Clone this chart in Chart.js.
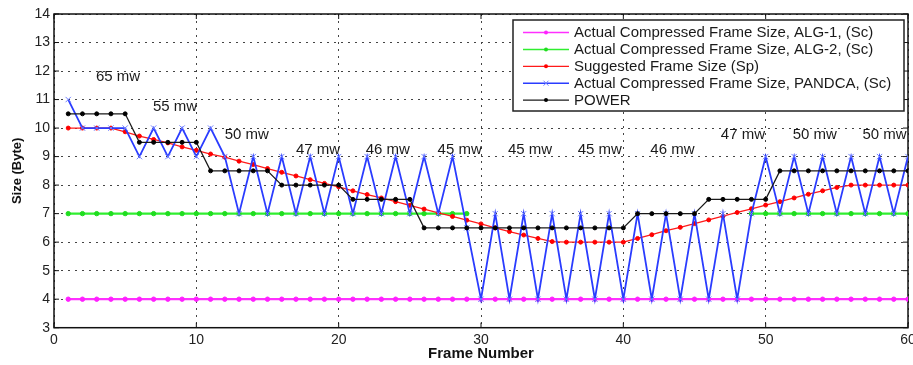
<!DOCTYPE html>
<html>
<head>
<meta charset="utf-8">
<script src="https://cdn.jsdelivr.net/npm/chart.js@4.4.0/dist/chart.umd.min.js"></script>
<style>
  html, body { margin: 0; padding: 0; background: #fff; overflow: hidden; }
  #wrap { width: 913px; height: 365px; }
</style>
</head>
<body>
<div id="wrap"><canvas id="frameChart" width="913" height="365"></canvas></div>
<script>
// Frame numbers on the x axis
const frames = [1, 2, 3, 4, 5, 6, 7, 8, 9, 10, 11, 12, 13, 14, 15, 16, 17, 18, 19, 20,
  21, 22, 23, 24, 25, 26, 27, 28, 29, 30, 31, 32, 33, 34, 35, 36, 37, 38, 39, 40,
  41, 42, 43, 44, 45, 46, 47, 48, 49, 50, 51, 52, 53, 54, 55, 56, 57, 58, 59, 60];

// Series values (Byte)
const alg1Sizes = [4, 4, 4, 4, 4, 4, 4, 4, 4, 4, 4, 4, 4, 4, 4, 4, 4, 4, 4, 4,
  4, 4, 4, 4, 4, 4, 4, 4, 4, 4, 4, 4, 4, 4, 4, 4, 4, 4, 4, 4,
  4, 4, 4, 4, 4, 4, 4, 4, 4, 4, 4, 4, 4, 4, 4, 4, 4, 4, 4, 4];

const alg2Sizes = [7, 7, 7, 7, 7, 7, 7, 7, 7, 7, 7, 7, 7, 7, 7, 7, 7, 7, 7, 7,
  7, 7, 7, 7, 7, 7, 7, 7, 7, null, null, null, null, null, null, null, null, null, null, null,
  null, null, null, null, null, null, null, null, 7, 7, 7, 7, 7, 7, 7, 7, 7, 7, 7, 7];

const suggestedSizes = [10, 10, 10, 10, 9.87, 9.72, 9.6, 9.48, 9.34, 9.22,
  9.09, 8.98, 8.84, 8.72, 8.58, 8.45, 8.32, 8.19, 8.06, 7.94,
  7.8, 7.67, 7.55, 7.42, 7.29, 7.16, 7.03, 6.9, 6.77, 6.64,
  6.5, 6.37, 6.25, 6.13, 6.02, 6, 6, 6, 6, 6,
  6.13, 6.26, 6.4, 6.52, 6.65, 6.78, 6.91, 7.04, 7.17, 7.3,
  7.42, 7.55, 7.68, 7.8, 7.92, 8, 8, 8, 8, 8];

const pandcaSizes = [11, 10, 10, 10, 10, 9, 10, 9, 10, 9,
  10, 9, 7, 9, 7, 9, 7, 9, 7, 9,
  7, 9, 7, 9, 7, 9, 7, 9, 6.5, 4,
  7, 4, 7, 4, 7, 4, 7, 4, 7, 4,
  7, 4, 7, 4, 7, 4, 7, 4, 7, 9,
  7, 9, 7, 9, 7, 9, 7, 9, 7, 9];

const powerLevels = [10.5, 10.5, 10.5, 10.5, 10.5, 9.5, 9.5, 9.5, 9.5, 9.5,
  8.5, 8.5, 8.5, 8.5, 8.5, 8, 8, 8, 8, 8,
  7.5, 7.5, 7.5, 7.5, 7.5, 6.5, 6.5, 6.5, 6.5, 6.5,
  6.5, 6.5, 6.5, 6.5, 6.5, 6.5, 6.5, 6.5, 6.5, 6.5,
  7, 7, 7, 7, 7, 7.5, 7.5, 7.5, 7.5, 7.5,
  8.5, 8.5, 8.5, 8.5, 8.5, 8.5, 8.5, 8.5, 8.5, 8.5];

// Power annotations, placed in data coordinates
const powerLabels = ["65 mw", "55 mw", "50 mw", "47 mw", "46 mw", "45 mw", "45 mw", "45 mw", "46 mw", "47 mw", "50 mw", "50 mw"];
const powerLabelX = [4.5, 8.5, 13.55, 18.55, 23.45, 28.5, 33.45, 38.35, 43.45, 48.4, 53.45, 58.35];
const powerLabelY = [11.78, 10.74, 9.75, 9.24, 9.24, 9.24, 9.24, 9.24, 9.24, 9.75, 9.75, 9.75];

// Axis ticks
const xTicks = [0, 10, 20, 30, 40, 50, 60];
const yTicks = [3, 4, 5, 6, 7, 8, 9, 10, 11, 12, 13, 14];

const FONT = "'Liberation Sans', Arial, sans-serif";
Chart.defaults.font.family = FONT;
Chart.defaults.color = "#222";

function toPoints(values) {
  return frames.map((f, i) => ({ x: f, y: values[i] }));
}

function lineSet(label, values, color, width, style, radius, markColor, order) {
  return {
    label,
    data: toPoints(values),
    borderColor: color,
    borderWidth: width,
    backgroundColor: markColor,
    pointStyle: style,
    pointRadius: radius,
    pointBackgroundColor: markColor,
    pointBorderColor: markColor,
    pointBorderWidth: 1,
    spanGaps: false,
    tension: 0,
    order,
  };
}

// Box around the plot plus inward MATLAB-style ticks
const frameBox = {
  id: "frameBox",
  beforeDatasetsDraw(chart) {
    const { ctx, chartArea: a, scales } = chart;
    ctx.save();
    ctx.strokeStyle = "#111";
    ctx.lineWidth = 1;
    xTicks.forEach((v) => {
      const px = scales.x.getPixelForValue(v);
      ctx.beginPath();
      ctx.moveTo(px, a.bottom); ctx.lineTo(px, a.bottom - 5);
      ctx.moveTo(px, a.top); ctx.lineTo(px, a.top + 5);
      ctx.stroke();
    });
    yTicks.forEach((v) => {
      const py = scales.y.getPixelForValue(v);
      ctx.beginPath();
      ctx.moveTo(a.left, py); ctx.lineTo(a.left + 5, py);
      ctx.moveTo(a.right, py); ctx.lineTo(a.right - 5, py);
      ctx.stroke();
    });
    ctx.lineWidth = 1.5;
    ctx.strokeRect(a.left, a.top, a.right - a.left, a.bottom - a.top);
    ctx.restore();
  },
};

// "xx mw" texts over the lines
const powerNotes = {
  id: "powerNotes",
  afterDatasetsDraw(chart) {
    const { ctx, scales } = chart;
    ctx.save();
    ctx.font = "15px " + FONT;
    ctx.fillStyle = "#1a1a1a";
    ctx.textAlign = "center";
    ctx.textBaseline = "middle";
    powerLabels.forEach((t, i) => {
      ctx.fillText(t, scales.x.getPixelForValue(powerLabelX[i]), scales.y.getPixelForValue(powerLabelY[i]));
    });
    ctx.restore();
  },
};

// Boxed legend in the top right corner
const boxLegend = {
  id: "boxLegend",
  afterDraw(chart) {
    const { ctx } = chart;
    const left = 513, top = 20, w = 391, h = 91;
    ctx.save();
    ctx.fillStyle = "#fff";
    ctx.fillRect(left, top, w, h);
    ctx.strokeStyle = "#222";
    ctx.lineWidth = 1.5;
    ctx.strokeRect(left, top, w, h);
    ctx.font = "15px " + FONT;
    ctx.textBaseline = "middle";
    chart.data.datasets.forEach((ds, i) => {
      const y = top + 12.5 + i * 16.9;
      ctx.strokeStyle = ds.borderColor;
      ctx.lineWidth = Math.min(ds.borderWidth, 1.5);
      ctx.beginPath();
      ctx.moveTo(523, y); ctx.lineTo(569, y);
      ctx.stroke();
      const mx = 546;
      if (ds.pointStyle === "crossRot") {
        ctx.strokeStyle = ds.pointBorderColor;
        ctx.lineWidth = 1;
        ctx.beginPath();
        ctx.moveTo(mx - 2.5, y - 2.5); ctx.lineTo(mx + 2.5, y + 2.5);
        ctx.moveTo(mx - 2.5, y + 2.5); ctx.lineTo(mx + 2.5, y - 2.5);
        ctx.stroke();
      } else {
        ctx.fillStyle = ds.pointBackgroundColor;
        ctx.beginPath();
        ctx.arc(mx, y, 2, 0, Math.PI * 2);
        ctx.fill();
      }
      ctx.fillStyle = "#1a1a1a";
      ctx.fillText(ds.label, 574, y + 0.5);
    });
    ctx.restore();
  },
};

new Chart(document.getElementById("frameChart"), {
  type: "line",
  data: {
    datasets: [
      lineSet("Actual Compressed Frame Size, ALG-1, (Sc)", alg1Sizes, "#ff30ff", 2.2, "circle", 2.2, "#ff20ff", 5),
      lineSet("Actual Compressed Frame Size, ALG-2, (Sc)", alg2Sizes, "#30ee30", 2.2, "circle", 2.2, "#20dd20", 4),
      lineSet("Suggested Frame Size (Sp)", suggestedSizes, "#ff1a1a", 1.3, "circle", 2, "#ff0000", 3),
      lineSet("Actual Compressed Frame Size, PANDCA, (Sc)", pandcaSizes, "#2a3cff", 1.8, "crossRot", 3.8, "#7080ff", 2),
      lineSet("POWER", powerLevels, "#1a1a1a", 1.3, "circle", 2, "#000", 1),
    ],
  },
  options: {
    responsive: false,
    animation: false,
    devicePixelRatio: 1,
    layout: { padding: { top: 14, right: 1, left: 0, bottom: 0 } },
    plugins: { legend: { display: false }, tooltip: { enabled: false } },
    scales: {
      x: {
        type: "linear",
        min: 0,
        max: 60,
        afterBuildTicks(s) { s.ticks = xTicks.map((v) => ({ value: v })); },
        ticks: { padding: 4, color: "#222", font: { size: 14 } },
        grid: { color: "#444", drawTicks: false, lineWidth: 1 },
        border: { display: false, dash: [2, 5] },
        title: { display: true, text: "Frame Number", color: "#111", font: { size: 15, weight: "bold" }, padding: { top: 0, bottom: 2 } },
        afterFit(s) { s.height = 37.3; s.paddingLeft = 0; s.paddingRight = 0; },
      },
      y: {
        min: 3,
        max: 14,
        afterBuildTicks(s) { s.ticks = yTicks.map((v) => ({ value: v })); },
        ticks: { padding: 4, color: "#222", font: { size: 14 } },
        grid: { color: "#444", drawTicks: false, lineWidth: 1 },
        border: { display: false, dash: [2, 5] },
        title: { display: true, text: "Size (Byte)", color: "#111", font: { size: 13, weight: "bold" }, padding: { top: 10, bottom: 0 } },
        afterFit(s) { s.width = 54; s.paddingTop = 0; s.paddingBottom = 0; },
      },
    },
  },
  plugins: [frameBox, powerNotes, boxLegend],
});
</script>
</body>
</html>
